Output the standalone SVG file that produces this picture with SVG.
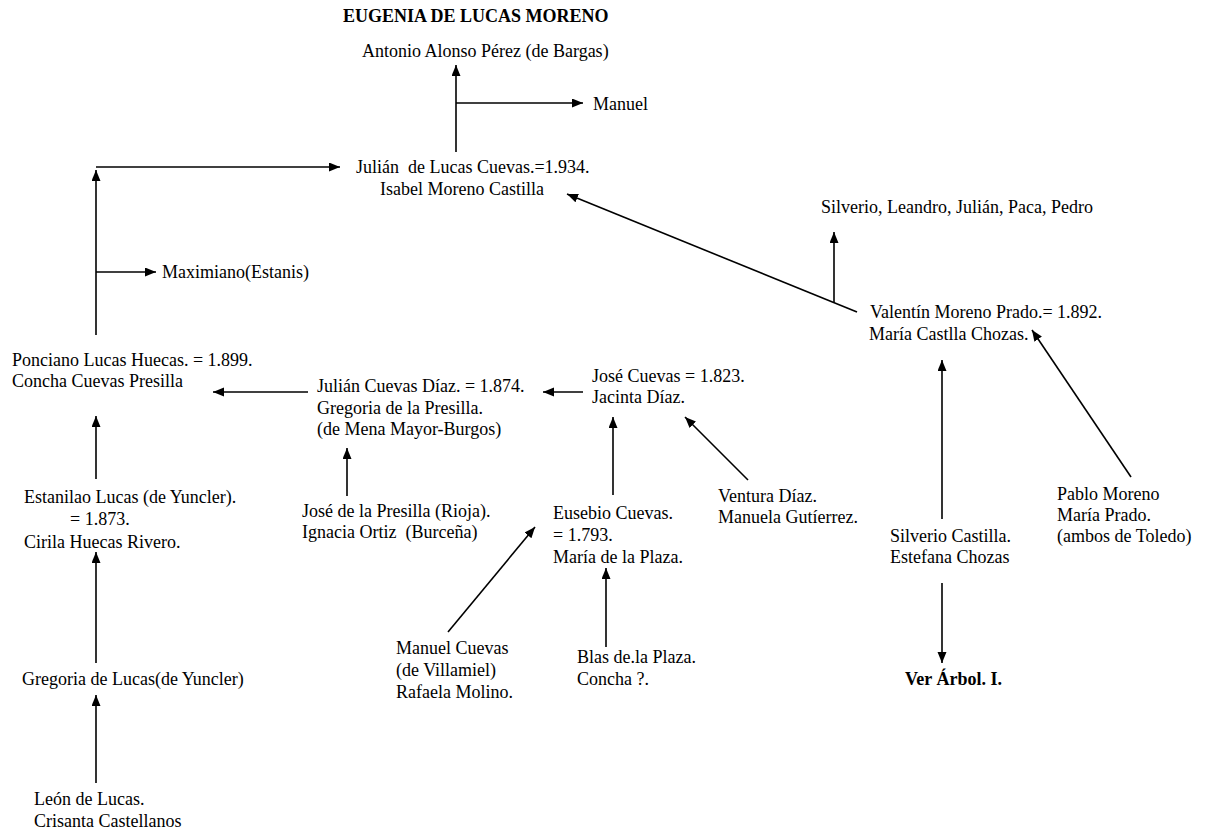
<svg xmlns="http://www.w3.org/2000/svg" width="1205" height="834" viewBox="0 0 1205 834">
<style>
text{font-family:"Liberation Serif","Times New Roman",serif;font-size:18px;fill:#000;white-space:pre}
.b{font-weight:bold}
.c line,.c polyline{stroke:#000;stroke-width:1.6;fill:none}
.a{marker-end:url(#ah)}
</style>
<defs>
<marker id="ah" markerUnits="userSpaceOnUse" markerWidth="12" markerHeight="10" refX="11" refY="4.5" orient="auto">
<path d="M0,0 L11,4.5 L0,9 z" fill="#000"/>
</marker>
</defs>
<rect width="1205" height="834" fill="#fff"/>
<g id="connectors" class="c">
<line class="a" x1="456" y1="152" x2="456" y2="65"/>
<line class="a" x1="456" y1="103" x2="583" y2="103"/>
<line class="a" x1="96" y1="335" x2="96" y2="170"/>
<line class="a" x1="96" y1="167" x2="340" y2="167"/>
<line class="a" x1="96" y1="272" x2="156" y2="272"/>
<line class="a" x1="308" y1="392" x2="213" y2="392"/>
<line class="a" x1="583" y1="392" x2="543" y2="392"/>
<line class="a" x1="347" y1="496" x2="347" y2="448"/>
<line class="a" x1="96" y1="479" x2="96" y2="416"/>
<line class="a" x1="96" y1="663" x2="96" y2="552"/>
<line class="a" x1="96" y1="783" x2="96" y2="695"/>
<line class="a" x1="613" y1="495" x2="613" y2="417"/>
<line class="a" x1="748" y1="480" x2="685" y2="417"/>
<line class="a" x1="448" y1="632" x2="535" y2="527"/>
<line class="a" x1="606" y1="647" x2="606" y2="568"/>
<line class="a" x1="857" y1="312" x2="567" y2="194"/>
<line class="a" x1="834" y1="302" x2="834" y2="232"/>
<line class="a" x1="942" y1="519" x2="942" y2="360"/>
<line class="a" x1="1131" y1="477" x2="1032" y2="330"/>
<line class="a" x1="942" y1="583" x2="942" y2="663"/>
</g>
<g id="title"><text class="b" x="343" y="22">EUGENIA DE LUCAS MORENO</text></g>
<g id="antonio"><text x="362" y="57">Antonio Alonso Pérez (de Bargas)</text></g>
<g id="manuel"><text x="593" y="110">Manuel</text></g>
<g id="julian"><text x="356" y="173">Julián  de Lucas Cuevas.=1.934.</text><text x="380" y="195">Isabel Moreno Castilla</text></g>
<g id="maximiano"><text x="162" y="278">Maximiano(Estanis)</text></g>
<g id="ponciano"><text x="12" y="366">Ponciano Lucas Huecas. = 1.899.</text><text x="12" y="387">Concha Cuevas Presilla</text></g>
<g id="julian-cuevas"><text x="317" y="392">Julián Cuevas Díaz. = 1.874.</text><text x="317" y="414">Gregoria de la Presilla.</text><text x="317" y="435">(de Mena Mayor-Burgos)</text></g>
<g id="jose-cuevas"><text x="592" y="382">José Cuevas = 1.823.</text><text x="592" y="403">Jacinta Díaz.</text></g>
<g id="jose-presilla"><text x="302" y="517">José de la Presilla (Rioja).</text><text x="302" y="538">Ignacia Ortiz  (Burceña)</text></g>
<g id="eusebio"><text x="553" y="519">Eusebio Cuevas.</text><text x="553" y="541">= 1.793.</text><text x="553" y="563">María de la Plaza.</text></g>
<g id="ventura"><text x="718" y="502">Ventura Díaz.</text><text x="718" y="523">Manuela Gutíerrez.</text></g>
<g id="estanilao"><text x="24" y="503">Estanilao Lucas (de Yuncler).</text><text x="70" y="525">= 1.873.</text><text x="24" y="548">Cirila Huecas Rivero.</text></g>
<g id="gregoria"><text x="22" y="685">Gregoria de Lucas(de Yuncler)</text></g>
<g id="leon"><text x="34" y="805">León de Lucas.</text><text x="34" y="827">Crisanta Castellanos</text></g>
<g id="manuel-cuevas"><text x="396" y="654">Manuel Cuevas</text><text x="396" y="676">(de Villamiel)</text><text x="396" y="698">Rafaela Molino.</text></g>
<g id="blas"><text x="577" y="663">Blas de.la Plaza.</text><text x="577" y="685">Concha ?.</text></g>
<g id="hermanos"><text x="821" y="213">Silverio, Leandro, Julián, Paca, Pedro</text></g>
<g id="valentin"><text x="870" y="318">Valentín Moreno Prado.= 1.892.</text><text x="869" y="340">María Castlla Chozas.</text></g>
<g id="silverio"><text x="890" y="542">Silverio Castilla.</text><text x="890" y="563">Estefana Chozas</text></g>
<g id="pablo"><text x="1057" y="500">Pablo Moreno</text><text x="1057" y="521">María Prado.</text><text x="1057" y="542">(ambos de Toledo)</text></g>
<g id="ver-arbol"><text class="b" x="905" y="685">Ver Árbol. I.</text></g>
</svg>
